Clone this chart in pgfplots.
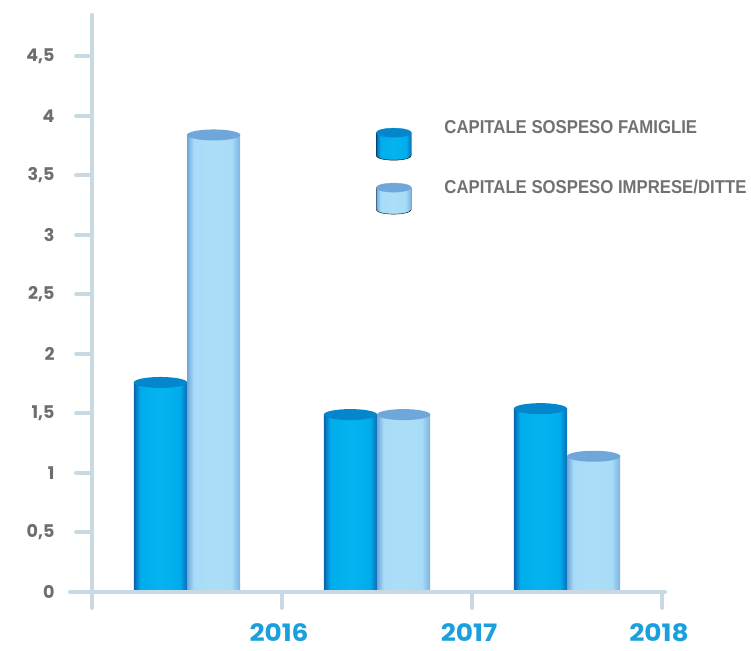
\documentclass[border=0pt]{standalone}
\usepackage{pgfplots}
\pgfplotsset{compat=1.18}
\usepackage{fontspec}
\setmainfont{Liberation Sans}
\newfontfamily\tickfont{Poppins}
\newfontfamily\yearfont[FakeStretch=1.1]{Poppins}
\newfontfamily\legfont[FakeStretch=0.9]{Liberation Sans}

\definecolor{axisc}{HTML}{C9D9E3}
\definecolor{tickgrey}{HTML}{6D6E71}
\definecolor{leggrey}{HTML}{707173}
\definecolor{yearblue}{HTML}{1BA0DE}
\definecolor{famL}{HTML}{0A63AE}
\definecolor{famM}{HTML}{00ADEC}
\definecolor{famM2}{HTML}{05B3EF}
\definecolor{famR}{HTML}{0A6DB6}
\definecolor{famtop}{HTML}{0386CB}
\definecolor{impL}{HTML}{6FA5DA}
\definecolor{impM}{HTML}{A7DBF7}
\definecolor{impM2}{HTML}{ADDEF8}
\definecolor{impR}{HTML}{7BB2E2}
\definecolor{imptop}{HTML}{6FA7DB}

\pgfdeclarehorizontalshading{famshade}{100bp}{color(0bp)=(famL); color(25bp)=(famL); color(31bp)=(famM); color(50bp)=(famM2); color(68bp)=(famM); color(75bp)=(famR); color(100bp)=(famR)}
\pgfdeclarehorizontalshading{impshade}{100bp}{color(0bp)=(impL); color(25bp)=(impL); color(31bp)=(impM); color(50bp)=(impM2); color(67bp)=(impM); color(75bp)=(impR); color(100bp)=(impR)}

\pgfdeclareplotmark{cyltop}{\pgfpathellipse{\pgfpointorigin}{\pgfqpoint{26.6pt}{0pt}}{\pgfqpoint{0pt}{5.5pt}}\pgfusepath{fill}}

\pgfplotsset{
  fambar/.style={ybar, bar width=0.28, bar shift=0pt, draw=none, shade, shading=famshade, forget plot},
  impbar/.style={ybar, bar width=0.28, bar shift=0pt, draw=none, shade, shading=impshade, forget plot},
}

\begin{document}
\begin{tikzpicture}
\useasboundingbox (0,0) rectangle (751pt,650pt);
\begin{axis}[
  at={(70pt,45pt)}, anchor=south west,
  scale only axis, width=595.08pt, height=590.24pt,
  xmin=-0.116, xmax=3.016, ymin=-0.11, ymax=4.85,
  axis lines=middle,
  axis line style={-, line width=4pt, draw=axisc, line cap=round},
  axis on top,
  hide obscured x ticks=false, hide obscured y ticks=false,
  xtick={0,1,2,3}, xticklabels={,2016,2017,2018},
  ytick={0,0.5,1,1.5,2,2.5,3,3.5,4,4.5},
  tick align=outside, major tick length=16pt,
  tick style={line width=4pt, draw=axisc, line cap=round},
  scaled ticks=false,
  /pgf/number format/use comma,
  /pgf/number format/assume math mode=true,
  yticklabel style={font=\tickfont\bfseries\fontsize{17.5pt}{20pt}\selectfont, text=tickgrey, anchor=east, xshift=-18pt},
  xticklabel style={font=\yearfont\bfseries\fontsize{24pt}{28pt}\selectfont, text=yearblue, anchor=north, inner sep=0pt, text depth=0pt, yshift=-15pt, xshift=-3pt},
  legend style={at={(axis cs:1.4947,3.962)}, anchor=north west, draw=none, fill=none,
    inner sep=0pt, outer sep=0pt, row sep=20pt,
    nodes={inner sep=0pt, text height=13.5pt, text depth=0pt, font=\legfont\bfseries\fontsize{18.6pt}{21pt}\selectfont, text=leggrey},
    /tikz/every odd column/.append style={column sep=33pt}},
  legend cell align=left,
]
% CAPITALE SOSPESO FAMIGLIE
\addplot[fambar] coordinates {(0.36,1.76)};
\addplot[fambar] coordinates {(1.36,1.49)};
\addplot[fambar] coordinates {(2.36,1.54)};
% CAPITALE SOSPESO IMPRESE/DITTE
\addplot[impbar] coordinates {(0.64,3.84)};
\addplot[impbar] coordinates {(1.64,1.49)};
\addplot[impbar] coordinates {(2.64,1.14)};
% cylinder tops
\addplot[only marks, mark=cyltop, mark options={fill=famtop, draw=none}, forget plot]
  coordinates {(0.36,1.76) (1.36,1.49) (2.36,1.54)};
\addplot[only marks, mark=cyltop, mark options={fill=imptop, draw=none}, forget plot]
  coordinates {(0.64,3.84) (1.64,1.49) (2.64,1.14)};

\addlegendimage{legend image code/.code={
  \path[shade, shading=famshade] (0pt,-5.5pt) -- (0pt,-28.5pt) arc (180:360:17.5pt and 4.5pt) -- (35pt,-5.5pt) -- cycle;
  \fill[famtop] (17.5pt,-5.5pt) ellipse (17.5pt and 4.5pt);
}}
\addlegendentry{CAPITALE SOSPESO FAMIGLIE}
\addlegendimage{legend image code/.code={
  \path[shade, shading=impshade] (0pt,-0.5pt) -- (0pt,-22.5pt) arc (180:360:17.5pt and 4.5pt) -- (35pt,-0.5pt) -- cycle;
  \fill[imptop] (17.5pt,-0.5pt) ellipse (17.5pt and 4.5pt);
}}
\addlegendentry{CAPITALE SOSPESO IMPRESE/DITTE}
\end{axis}
\end{tikzpicture}
\end{document}
